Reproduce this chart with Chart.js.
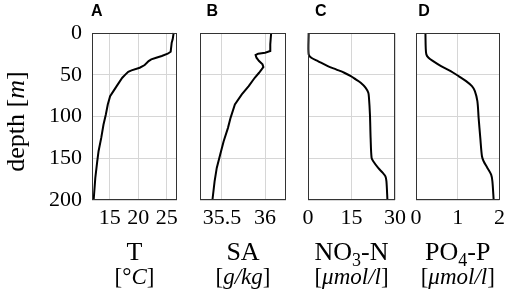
<!DOCTYPE html>
<html>
<head>
<meta charset="utf-8">
<script src="https://cdn.jsdelivr.net/npm/chart.js@4.4.0/dist/chart.umd.min.js"></script>
<style>
    html, body { margin: 0; padding: 0; background: #fff; }
    #wrap { position: relative; width: 510px; height: 295px; }
    #wrap canvas { position: absolute; left: 0; top: 0; }
</style>
</head>
<body>
<div id="wrap">
    <canvas id="chartT" width="510" height="295"></canvas>
    <canvas id="chartSA" width="510" height="295"></canvas>
    <canvas id="chartNO3" width="510" height="295"></canvas>
    <canvas id="chartPO4" width="510" height="295"></canvas>
</div>
<script>
// shared depth axis
const depthTicks = [0, 50, 100, 150, 200];

// A - temperature
const depthT = [0, 7.6, 11.6, 22.4, 24.8, 27.6, 29.6, 31.6, 33.6, 38.4, 41.6, 44.8, 46.4, 49.6, 53.6, 57.6, 63.6, 69.6, 75.6, 85.6, 97.6, 109.6, 125.6, 141.6, 153.6, 173.6, 200];
const valuesT = [26.21, 26.04, 25.87, 25.69, 25.17, 24.13, 23.15, 22.28, 21.82, 21.13, 20.26, 18.82, 18.24, 17.77, 17.2, 16.79, 16.21, 15.64, 15.06, 14.65, 14.31, 13.9, 13.5, 13.03, 12.8, 12.46, 12.17];
const ticksT = [15, 20, 25];

// B - absolute salinity
const depthSA = [0, 13.6, 21.6, 23.6, 24.8, 26.4, 29.6, 33.6, 37.6, 40.8, 43.6, 47.6, 53.6, 63.6, 73.6, 85.6, 101.6, 113.6, 129.6, 145.6, 161.6, 177.6, 200];
const valuesSA = [36.07, 36.06, 36.06, 36.0, 35.92, 35.89, 35.9, 35.93, 35.97, 35.98, 35.96, 35.93, 35.88, 35.81, 35.73, 35.65, 35.6, 35.57, 35.52, 35.48, 35.44, 35.415, 35.39];
const ticksSA = [35.5, 36];

// C - nitrate
const depthNO3 = [0, 25.6, 29.6, 33.6, 39.6, 43.6, 47.6, 51.6, 55.6, 59.6, 65.6, 71.6, 77.6, 97.6, 125.6, 149.6, 153.6, 161.6, 167.6, 171.6, 177.6, 200];
const valuesNO3 = [0.23, 0.23, 1.14, 3.41, 6.82, 9.66, 12.5, 14.77, 16.48, 18.18, 19.89, 20.8, 21.02, 21.36, 21.59, 21.93, 22.5, 24.2, 25.8, 26.7, 27.05, 27.39];
const ticksNO3 = [0, 15, 30];

// D - phosphate
const depthPO4 = [0, 17.6, 25.6, 29.6, 33.6, 39.6, 45.6, 51.6, 57.6, 63.6, 69.6, 81.6, 101.6, 125.6, 147.6, 153.6, 161.6, 169.6, 177.6, 200];
const valuesPO4 = [0.226, 0.233, 0.248, 0.3, 0.41, 0.6, 0.83, 1.02, 1.2, 1.34, 1.41, 1.47, 1.5, 1.54, 1.58, 1.62, 1.71, 1.8, 1.83, 1.86];
const ticksPO4 = [0, 1, 2];

const serif = '"Liberation Serif", "Times New Roman", serif';
Chart.defaults.font.family = serif;
Chart.defaults.font.size = 22;
Chart.defaults.color = '#000';

function partFont(style, size) {
    const s = style === 'sub' ? Math.round(size * 0.7) : size;
    return (style === 'i' ? 'italic ' : '') + s + 'px ' + serif;
}

// draws a label made of [text, style] pieces, centred on cx
function drawRich(ctx, parts, cx, y, size) {
    let w = 0;
    parts.forEach(([t, st]) => { ctx.font = partFont(st, size); w += ctx.measureText(t).width; });
    let x = cx - w / 2;
    ctx.textAlign = 'left';
    ctx.textBaseline = 'alphabetic';
    parts.forEach(([t, st]) => {
        ctx.font = partFont(st, size);
        ctx.fillText(t, x, st === 'sub' ? y + size * 0.22 : y);
        x += ctx.measureText(t).width;
    });
}

const panelDecor = {
    id: 'panelDecor',
    afterDraw(chart, args, opts) {
        const { ctx, chartArea: a } = chart;
        ctx.save();
        ctx.strokeStyle = '#333';
        ctx.lineWidth = 1;
        ctx.strokeRect(Math.round(a.left) + 0.5, Math.round(a.top) + 0.5,
            Math.round(a.right - a.left) - 1, Math.round(a.bottom - a.top) - 1);

        ctx.fillStyle = '#000';
        ctx.font = 'bold 16px "Liberation Sans", Arial, sans-serif';
        ctx.textAlign = 'left';
        ctx.textBaseline = 'alphabetic';
        ctx.fillText(opts.letter, a.left + opts.letterDx, 15.5);

        const cx = (a.left + a.right) / 2;
        drawRich(ctx, opts.name, cx, 260, 26);
        drawRich(ctx, opts.unit, cx, 284, 23);

        if (opts.depthLabel) {
            ctx.translate(23.5, 121.5);
            ctx.rotate(-Math.PI / 2);
            drawRich(ctx, opts.depthLabel, 0, 0, 26);
        }
        ctx.restore();
    }
};

function makePanel(id, p) {
    const points = p.values.map((v, i) => ({ x: v, y: p.depth[i] }));
    const first = !!p.depthLabel;
    return new Chart(document.getElementById(id), {
        type: 'scatter',
        data: {
            datasets: [{
                data: points,
                showLine: true,
                borderColor: '#000',
                borderWidth: 2,
                pointRadius: 0,
                tension: p.tension,
                clip: false
            }]
        },
        options: {
            responsive: false,
            animation: false,
            events: [],
            layout: { padding: { top: 33, left: p.left, right: p.right, bottom: 0 } },
            plugins: {
                legend: { display: false },
                tooltip: { enabled: false },
                panelDecor: p
            },
            scales: {
                x: {
                    type: 'linear',
                    min: p.min,
                    max: p.max,
                    afterBuildTicks: s => { s.ticks = p.ticks.map(v => ({ value: v })); },
                    afterFit: s => { s.height = 95; },
                    grid: { color: '#d6d6d6', lineWidth: 1, drawTicks: false },
                    border: { display: false },
                    ticks: { padding: 5, maxRotation: 0, autoSkip: false, callback: v => String(v) }
                },
                y: {
                    type: 'linear',
                    reverse: true,
                    min: 0,
                    max: 200,
                    afterBuildTicks: s => { s.ticks = depthTicks.map(v => ({ value: v })); },
                    afterFit: s => { s.width = first ? 92 : 0; },
                    grid: { color: '#d6d6d6', lineWidth: 1, drawTicks: false },
                    border: { display: false },
                    ticks: { display: first, padding: 10, callback: v => String(v) }
                }
            }
        },
        plugins: [panelDecor]
    });
}

makePanel('chartT', {
    depth: depthT, values: valuesT, ticks: ticksT, min: 11.88, max: 26.8, tension: 0,
    left: 0, right: 333, letter: 'A', letterDx: -1,
    name: [['T', '']], unit: [['[°', ''], ['C', 'i'], [']', '']],
    depthLabel: [['depth ', ''], ['[', ''], ['m', 'i'], [']', '']]
});
makePanel('chartSA', {
    depth: depthSA, values: valuesSA, ticks: ticksSA, min: 35.246, max: 36.242, tension: 0,
    left: 200, right: 224, letter: 'B', letterDx: 6.5,
    name: [['SA', '']], unit: [['[', ''], ['g/kg', 'i'], [']', '']]
});
makePanel('chartNO3', {
    depth: depthNO3, values: valuesNO3, ticks: ticksNO3, min: 0, max: 30, tension: 0.3,
    left: 308, right: 115, letter: 'C', letterDx: 7,
    name: [['NO', ''], ['3', 'sub'], ['-N', '']], unit: [['[', ''], ['μmol/l', 'i'], [']', '']]
});
makePanel('chartPO4', {
    depth: depthPO4, values: valuesPO4, ticks: ticksPO4, min: 0, max: 2, tension: 0.3,
    left: 416, right: 7, letter: 'D', letterDx: 2.3,
    name: [['PO', ''], ['4', 'sub'], ['-P', '']], unit: [['[', ''], ['μmol/l', 'i'], [']', '']]
});
</script>
</body>
</html>
